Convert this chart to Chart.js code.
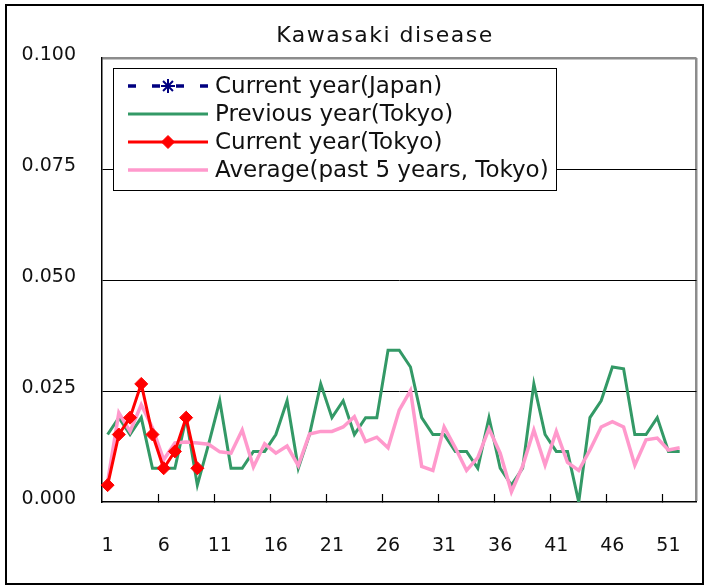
<!DOCTYPE html>
<html>
<head>
<meta charset="utf-8">
<script src="https://cdn.jsdelivr.net/npm/chart.js@4/dist/chart.umd.min.js"></script>
<style>
  body { margin: 0; background: #fff; }
  #wrap { position: relative; width: 704px; height: 585px; }
  #frame { position: absolute; left: 5px; top: 4px; width: 699px; height: 581px;
           border: 2px solid #000; box-sizing: border-box; pointer-events: none; }
</style>
</head>
<body>
<div id="wrap">
  <canvas id="chart" width="704" height="585"></canvas>
  <div id="frame"></div>
</div>
<script>
// weeks 1..53
const weeks = [];
for (let w = 1; w <= 53; w++) weeks.push(String(w));

const japanCurrent = [];

const tokyoPrevious = [
  0.0152, 0.0190, 0.0152, 0.0190, 0.0076, 0.0076, 0.0076, 0.0190, 0.0038, 0.0130,
  0.0228, 0.0076, 0.0076, 0.0114, 0.0114, 0.0152, 0.0228, 0.0076, 0.0152, 0.0266,
  0.0190, 0.0228, 0.0152, 0.0190, 0.0190, 0.0342, 0.0342, 0.0304, 0.0190, 0.0152,
  0.0152, 0.0114, 0.0114, 0.0076, 0.0190, 0.0076, 0.0038, 0.0076, 0.0266, 0.0152,
  0.0114, 0.0114, 0.0000, 0.0190, 0.0228, 0.0304, 0.0300, 0.0152, 0.0152, 0.0190,
  0.0114, 0.0114
];

const tokyoCurrent = [0.0038, 0.0152, 0.0190, 0.0266, 0.0152, 0.0076, 0.0114, 0.0190, 0.0076];

const tokyoAverage = [
  0.0045, 0.0201, 0.0159, 0.0219, 0.0167, 0.0095, 0.0133, 0.0135, 0.0133, 0.0130,
  0.0113, 0.0110, 0.0162, 0.0079, 0.0131, 0.0110, 0.0126, 0.0082, 0.0153, 0.0159,
  0.0159, 0.0169, 0.0192, 0.0136, 0.0146, 0.0122, 0.0207, 0.0251, 0.0080, 0.0071,
  0.0169, 0.0122, 0.0071, 0.0100, 0.0165, 0.0110, 0.0023, 0.0081, 0.0162, 0.0083,
  0.0159, 0.0089, 0.0071, 0.0117, 0.0169, 0.0181, 0.0169, 0.0083, 0.0140, 0.0144,
  0.0117, 0.0122
];

const yTicks = [0, 0.025, 0.05, 0.075, 0.1];

const FONT = "'DejaVu Sans', 'Noto Sans', sans-serif";

const datasets = [
  {
    label: 'Current year(Japan)',
    data: japanCurrent,
    borderColor: '#000080',
    backgroundColor: '#000080',
    borderWidth: 3.5,
    borderDash: [8, 16],
    pointStyle: 'star',
    pointRadius: 7,
    pointBorderWidth: 2,
    order: 3
  },
  {
    label: 'Previous year(Tokyo)',
    data: tokyoPrevious,
    borderColor: '#339966',
    backgroundColor: '#339966',
    borderWidth: 3,
    pointRadius: 0,
    order: 2
  },
  {
    label: 'Current year(Tokyo)',
    data: tokyoCurrent,
    borderColor: '#ff0000',
    backgroundColor: '#ff0000',
    borderWidth: 3,
    pointStyle: 'rectRot',
    pointRadius: 6.5,
    pointBorderWidth: 1,
    order: 0
  },
  {
    label: 'Average(past 5 years, Tokyo)',
    data: tokyoAverage,
    borderColor: '#ff99cc',
    backgroundColor: '#ff99cc',
    borderWidth: 3.5,
    pointRadius: 0,
    order: 1
  }
];

// title + legend box inside the plot, drawn like the spreadsheet
const sheetDecor = {
  id: 'sheetDecor',
  afterDraw(chart) {
    const ctx = chart.ctx;
    ctx.save();
    ctx.fillStyle = '#111';
    ctx.font = '22px ' + FONT;
    ctx.letterSpacing = '1.5px';
    ctx.textAlign = 'center';
    ctx.textBaseline = 'middle';
    ctx.fillText('Kawasaki disease', 385, 36);
    ctx.letterSpacing = '0px';

    const left = 113, top = 68, w = 443, h = 122;
    ctx.fillStyle = '#fff';
    ctx.fillRect(left, top, w, h);
    ctx.strokeStyle = '#000';
    ctx.lineWidth = 1;
    ctx.strokeRect(left + 0.5, top + 0.5, w, h);
    const rowY = [86, 114, 142, 170];
    chart.data.datasets.forEach((ds, i) => {
      const y = rowY[i];
      ctx.strokeStyle = ds.borderColor;
      ctx.lineWidth = ds.borderWidth;
      ctx.setLineDash(ds.borderDash || []);
      ctx.beginPath();
      ctx.moveTo(128, y);
      ctx.lineTo(208, y);
      ctx.stroke();
      ctx.setLineDash([]);
      if (ds.pointRadius > 0) {
        ctx.fillStyle = ds.backgroundColor;
        ctx.strokeStyle = ds.borderColor;
        ctx.lineWidth = ds.pointBorderWidth;
        Chart.helpers.drawPoint(ctx, {
          pointStyle: ds.pointStyle,
          radius: ds.pointRadius,
          rotation: 0,
          borderWidth: ds.pointBorderWidth
        }, 168, y);
      }
      ctx.fillStyle = '#111';
      ctx.font = '23px ' + FONT;
      ctx.textBaseline = 'middle';
      ctx.textAlign = 'left';
      ctx.fillText(ds.label, 215, y + 1);
    });
    ctx.restore();
  }
};

new Chart(document.getElementById('chart'), {
  type: 'line',
  data: { labels: weeks, datasets: datasets },
  options: {
    responsive: false,
    animation: false,
    layout: { padding: { left: 8, right: 5, top: 58, bottom: 0 } },
    elements: { line: { tension: 0 } },
    plugins: {
      legend: { display: false },
      tooltip: { enabled: false },
      title: { display: false }
    },
    scales: {
      x: {
        offset: true,
        afterFit: (s) => { s.height = 83; s.paddingLeft = 0; s.paddingRight = 0; },
        border: { color: '#000', width: 1.5 },
        grid: {
          offset: true,
          drawOnChartArea: true,
          tickLength: -8,
          color: (c) => (c.index === undefined ? '#8c8c8c' : 'rgba(0,0,0,0)'),
          lineWidth: (c) => (c.index === undefined ? 2.5 : 1),
          tickColor: (c) => (c.index !== undefined && c.index > 0 && c.index % 5 === 0 ? '#000' : 'rgba(0,0,0,0)'),
          tickWidth: 1.2
        },
        ticks: {
          autoSkip: false,
          maxRotation: 0,
          padding: 41,
          color: '#111',
          font: { family: FONT, size: 19 },
          callback: function (v, i) { return i % 5 === 0 ? weeks[i] : ''; }
        }
      },
      y: {
        min: 0,
        max: 0.1,
        afterFit: (s) => { s.width = 94; },
        afterBuildTicks: (s) => { s.ticks = yTicks.map(v => ({ value: v })); },
        border: { color: '#000', width: 1.5 },
        grid: {
          drawTicks: false,
          color: (c) => (c.tick && c.tick.value === 0.1 ? '#8c8c8c' : (c.tick && c.tick.value === 0 ? 'rgba(0,0,0,0)' : '#000')),
          lineWidth: (c) => (c.tick && c.tick.value === 0.1 ? 2.5 : 1)
        },
        ticks: {
          padding: 26,
          labelOffset: -3,
          color: '#111',
          font: { family: FONT, size: 19 },
          callback: (v) => Number(v).toFixed(3)
        }
      }
    }
  },
  plugins: [sheetDecor]
});
</script>
</body>
</html>
